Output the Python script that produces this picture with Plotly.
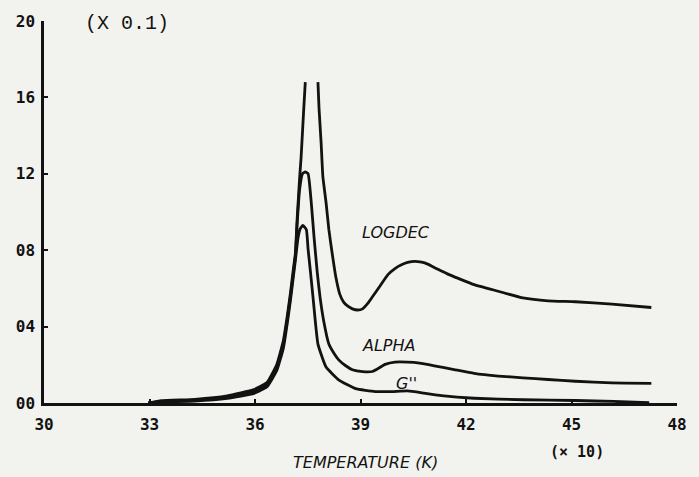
import plotly.graph_objects as go

# Temperature axis is in units of 10 K, damping values in units of 0.1
x_ticks = [30, 33, 36, 39, 42, 45, 48]
x_tick_text = ["30", "33", "36", "39", "42", "45", "48"]
y_ticks = [0, 4, 8, 12, 16, 20]
y_tick_text = ["00", "04", "08", "12", "16", "20"]

# LOGDEC: rising flank up to the plotter clip, then the falling flank after it
logdec_rise_t = [32.97, 33.34, 34.29, 35.21, 35.97, 36.34, 36.62, 36.81, 36.92,
                 37.01, 37.09, 37.15, 37.20, 37.27, 37.31, 37.38, 37.43]
logdec_rise_v = [0.0, 0.12, 0.19, 0.37, 0.70, 1.07, 2.02, 3.30, 4.58,
                 5.79, 6.99, 7.87, 9.70, 11.8, 12.84, 15.19, 16.8]
logdec_fall_t = [37.79, 37.82, 37.88, 37.93, 38.02, 38.10, 38.19, 38.30, 38.41,
                 38.52, 38.63, 38.77, 38.92, 39.06, 39.20, 39.34, 39.56, 39.78,
                 39.98, 40.18, 40.34, 40.54, 40.74, 40.91, 41.19, 41.47, 41.80,
                 42.23, 42.92, 43.62, 44.33, 45.11, 46.15, 47.27]
logdec_fall_v = [16.8, 15.46, 13.63, 11.85, 10.5, 9.09, 7.89, 6.58, 5.70,
                 5.28, 5.08, 4.93, 4.87, 4.93, 5.20, 5.56, 6.14, 6.72,
                 7.04, 7.25, 7.36, 7.42, 7.37, 7.27, 7.01, 6.76, 6.51,
                 6.20, 5.85, 5.50, 5.35, 5.30, 5.18, 5.00]

alpha_t = [32.97, 33.34, 34.29, 35.21, 35.97, 36.34, 36.62, 36.81, 36.92, 37.01,
           37.09, 37.15, 37.20, 37.27, 37.35, 37.43, 37.51, 37.60, 37.68, 37.77,
           37.85, 37.96, 38.10, 38.24, 38.38, 38.58, 38.77, 39.06, 39.34, 39.70,
           39.98, 40.34, 40.68, 41.10, 41.66, 42.23, 42.92, 43.62, 44.33, 45.11,
           46.15, 47.27]
alpha_v = [0.0, 0.09, 0.15, 0.31, 0.60, 0.95, 1.85, 3.10, 4.40, 5.60,
           6.80, 7.70, 9.40, 11.2, 12.0, 12.1, 12.0, 10.49, 8.66, 6.84,
           5.53, 4.23, 3.09, 2.62, 2.26, 1.95, 1.74, 1.64, 1.65, 2.02,
           2.14, 2.14, 2.09, 1.95, 1.75, 1.55, 1.41, 1.32, 1.23, 1.14,
           1.05, 1.03]

gpp_t = [32.97, 33.34, 34.29, 35.21, 35.97, 36.34, 36.62, 36.81, 36.92, 37.01,
         37.09, 37.15, 37.22, 37.28, 37.36, 37.46, 37.51, 37.57, 37.65, 37.79,
         38.02, 38.38, 38.86, 39.42, 39.90, 40.34, 40.80, 41.30, 42.23, 43.62,
         45.11, 46.20, 47.21]
gpp_v = [0.0, 0.06, 0.10, 0.24, 0.50, 0.85, 1.70, 2.90, 4.20, 5.40,
         6.60, 7.50, 8.60, 9.10, 9.30, 9.08, 8.04, 7.00, 5.53, 3.08,
         1.88, 1.21, 0.75, 0.60, 0.60, 0.63, 0.52, 0.39, 0.25, 0.17,
         0.13, 0.08, 0.02]

INK = "#121212"
PAPER = "#f2f2ef"
line_style = dict(color=INK, width=2.8, shape="spline", smoothing=0.4)

fig = go.Figure()
fig.add_trace(go.Scatter(
    x=logdec_rise_t + [None] + logdec_fall_t,
    y=logdec_rise_v + [None] + logdec_fall_v,
    mode="lines", line=line_style, connectgaps=False, name="LOGDEC"))
fig.add_trace(go.Scatter(x=alpha_t, y=alpha_v, mode="lines",
                         line=line_style, name="ALPHA"))
fig.add_trace(go.Scatter(x=gpp_t, y=gpp_v, mode="lines",
                         line=line_style, name="G''"))

tick_font = dict(family="DejaVu Sans Mono", size=16, color=INK, weight="bold")
label_font = dict(family="DejaVu Sans", size=16, color=INK, style="italic")

fig.update_xaxes(range=[30, 48], tickvals=x_ticks, ticktext=x_tick_text,
                 showline=True, linecolor=INK, linewidth=2.5,
                 ticks="inside", ticklen=4, tickwidth=2, tickcolor=INK,
                 showgrid=False, zeroline=False, tickfont=tick_font,
                 ticklabelstandoff=5)
fig.update_yaxes(range=[0, 20], tickvals=y_ticks, ticktext=y_tick_text,
                 showline=True, linecolor=INK, linewidth=2.5,
                 ticks="inside", ticklen=4, tickwidth=2, tickcolor=INK,
                 showgrid=False, zeroline=False, tickfont=tick_font,
                 ticklabelstandoff=3)

annotations = [
    dict(text="(X 0.1)", x=32.35, y=19.85, xref="x", yref="y",
         font=dict(family="Liberation Mono", size=20, color=INK)),
    dict(text="LOGDEC", x=40.0, y=8.93, xref="x", yref="y", font=label_font),
    dict(text="ALPHA", x=39.8, y=3.03, xref="x", yref="y", font=label_font),
    dict(text="G''", x=40.3, y=1.04, xref="x", yref="y", font=label_font),
    dict(text="(× 10)", x=0.842, y=-0.128, xref="paper", yref="paper",
         font=dict(family="DejaVu Sans Mono", size=15, color=INK, weight="bold")),
    dict(text="TEMPERATURE (K)", x=0.508, y=-0.157, xref="paper", yref="paper",
         font=dict(family="DejaVu Sans", size=16, color=INK, style="italic")),
]
for a in annotations:
    a.update(showarrow=False, xanchor="center", yanchor="middle")

fig.update_layout(
    width=699, height=477,
    margin=dict(l=44, r=13, t=20, b=74),
    paper_bgcolor=PAPER, plot_bgcolor=PAPER,
    showlegend=False,
    annotations=annotations,
)

fig.write_html("out.html")
